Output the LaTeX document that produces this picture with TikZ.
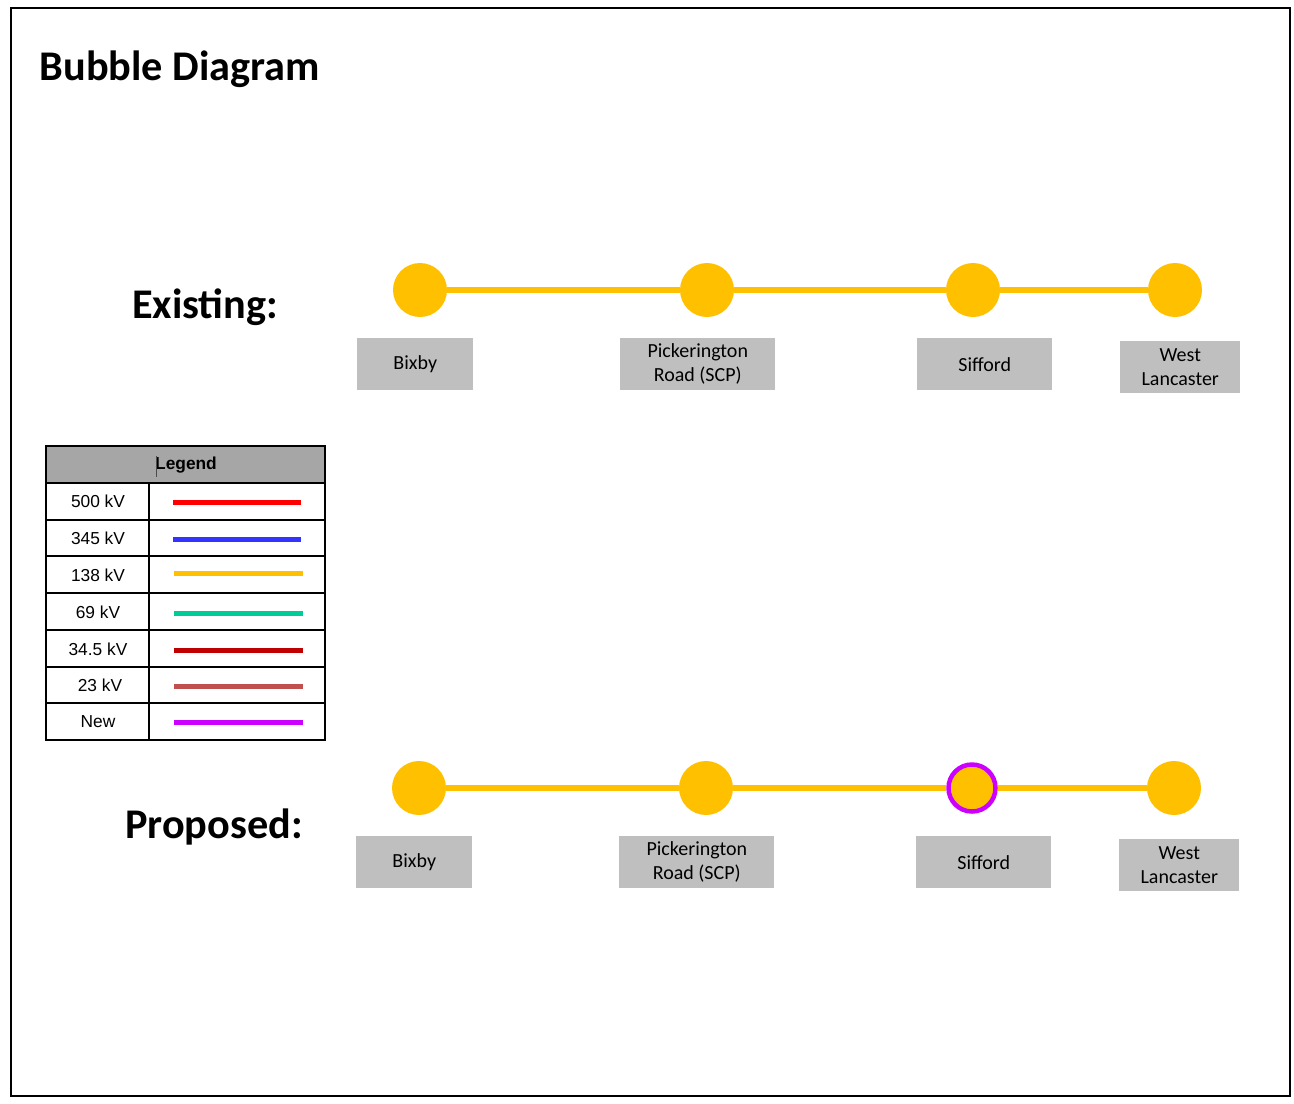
\documentclass[tikz,border=0pt]{standalone}
\usepackage{fontspec}
\setmainfont{Carlito}
\newfontfamily\arialfont{Liberation Sans}
\definecolor{kvgold}{HTML}{FFC000}
\definecolor{boxgray}{HTML}{BFBFBF}
\definecolor{hdrgray}{HTML}{A6A6A6}
\definecolor{newpurple}{HTML}{CC00FF}
\definecolor{kvred}{HTML}{FF0000}
\definecolor{kvblue}{HTML}{3333FF}
\definecolor{kvgreen}{HTML}{00CC99}
\definecolor{kvdred}{HTML}{C00000}
\definecolor{kvrose}{HTML}{C0504D}
\begin{document}
\begin{tikzpicture}[x=0.75pt,y=-0.75pt,
  bubble/.style={circle,fill=kvgold,minimum size=54*0.75pt,inner sep=0pt},
  newbubble/.style={circle,fill=kvgold,draw=newpurple,line width=4.5pt*0.75,minimum size=47*0.75pt,inner sep=0pt},
  line138/.style={draw=kvgold,line width=6*0.75pt},
  lbl/.style={fill=boxgray,font=\fontsize{15}{18}\selectfont,align=center,inner sep=0pt,anchor=north west},
  heading/.style={font=\bfseries\fontsize{31.7}{36}\selectfont},
  leg/.style={font=\arialfont\fontsize{13}{15}\selectfont},
  legline/.style={line width=5*0.75pt}]
\useasboundingbox (0,0) rectangle (1294,1103);
\draw[line width=2*0.75pt] (11,8) rectangle (1290,1096);
\node[anchor=west,font=\bfseries\fontsize{31.7}{36}\selectfont] (title) at (35,69) {Bubble Diagram};
\node[heading] (existing) at (205,307) {Existing:};
\node[heading] (proposed) at (214,827) {Proposed:};

% Existing
\node[bubble] (e1) at (420,290) {};
\node[bubble] (e2) at (707,290) {};
\node[bubble] (e3) at (973,290) {};
\node[bubble] (e4) at (1175,290) {};
\draw[line138] (e1) -- (e2);
\draw[line138] (e2) -- (e3);
\draw[line138] (e3) -- (e4);
\node[lbl,minimum width=116*0.75pt,minimum height=52*0.75pt] (le1) at (357,338) {Bixby};
\node[lbl,minimum width=155*0.75pt,minimum height=52*0.75pt] (le2) at (620,338) {Pickerington\\Road (SCP)};
\node[lbl,minimum width=135*0.75pt,minimum height=52*0.75pt] (le3) at (917,338) {Sifford};
\node[lbl,minimum width=120*0.75pt,minimum height=52*0.75pt] (le4) at (1120,341) {West\\Lancaster};

% Proposed
\node[bubble] (p1) at (419,788) {};
\node[bubble] (p2) at (706,788) {};
\node[newbubble] (p3) at (972,788) {};
\node[bubble] (p4) at (1174,788) {};
\draw[line138] (p1) -- (p2);
\draw[line138] (p2) -- (p3);
\draw[line138] (p3) -- (p4);
\node[lbl,minimum width=116*0.75pt,minimum height=52*0.75pt] (lp1) at (356,836) {Bixby};
\node[lbl,minimum width=155*0.75pt,minimum height=52*0.75pt] (lp2) at (619,836) {Pickerington\\Road (SCP)};
\node[lbl,minimum width=135*0.75pt,minimum height=52*0.75pt] (lp3) at (916,836) {Sifford};
\node[lbl,minimum width=120*0.75pt,minimum height=52*0.75pt] (lp4) at (1119,839) {West\\Lancaster};

% Legend
\fill[hdrgray] (46,446) rectangle (325,483);
\draw[line width=2*0.75pt] (46,446) rectangle (325,740);
\foreach \y in {483,520,556,593,630,667,703} \draw[line width=2*0.75pt] (46,\y) -- (325,\y);
\draw[line width=2*0.75pt] (149,483) -- (149,740);
\node[leg,font=\arialfont\bfseries\fontsize{13}{15}\selectfont] (legtitle) at (186,465) {Legend};
\draw[line width=0.6pt,black!70] (156,456) -- (156,477);
\node[leg] (t1) at (98,501) {500 kV};
\node[leg] (t2) at (98,538) {345 kV};
\node[leg] (t3) at (98,575) {138 kV};
\node[leg] (t4) at (98,612) {69 kV};
\node[leg] (t5) at (98,649) {34.5 kV};
\node[leg] (t6) at (100,685) {23 kV};
\node[leg] (t7) at (98,722) {New};
\draw[legline,kvred] (173,502) -- (301,502);
\draw[legline,kvblue] (173,539) -- (301,539);
\draw[legline,kvgold] (174,573) -- (303,573);
\draw[legline,kvgreen] (174,613) -- (303,613);
\draw[legline,kvdred] (174,650) -- (303,650);
\draw[legline,kvrose] (174,686) -- (303,686);
\draw[legline,newpurple] (174,722) -- (303,722);
\end{tikzpicture}
\end{document}
